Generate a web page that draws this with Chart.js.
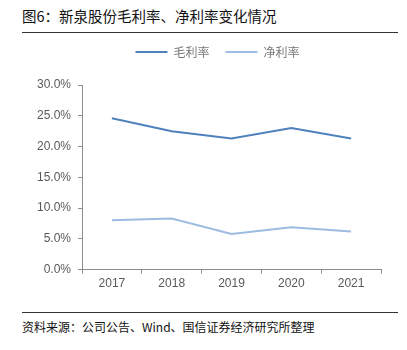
<!DOCTYPE html>
<html>
<head>
<meta charset="utf-8">
<script src="https://cdn.jsdelivr.net/npm/chart.js@4"></script>
<style>
  body { margin: 0; background: #fff; width: 407px; height: 350px; position: relative; overflow: hidden;
         font-family: "Noto Sans CJK SC", "Noto Sans", sans-serif; }
  #title { position: absolute; left: 22px; top: 5px; font-size: 14.5px; color: #111; }
  #rule1 { position: absolute; left: 22px; top: 32px; width: 376px; height: 1px; background: #333; }
  #rule2 { position: absolute; left: 22px; top: 312px; width: 376px; height: 1px; background: #333; }
  #source { position: absolute; left: 22px; top: 318px; font-size: 12px; color: #111; }
  #wrap { position: absolute; left: 0; top: 26px; width: 407px; height: 268px; }
</style>
</head>
<body>
<div id="title">图6：新泉股份毛利率、净利率变化情况</div>
<div id="rule1"></div>
<div id="wrap"><canvas id="chart"></canvas></div>
<div id="rule2"></div>
<div id="source">资料来源：公司公告、Wind、国信证券经济研究所整理</div>

<script>
// ===============================
// DATA
// ===============================

const years = ['2017', '2018', '2019', '2020', '2021'];

const grossMargin = [24.6, 22.5, 21.3, 23.0, 21.3];

const netMargin = [8.0, 8.3, 5.8, 6.9, 6.2];

const seriesNames = ['毛利率', '净利率'];


// ===============================
// CHART SETUP
// ===============================

const ctx = document.getElementById('chart').getContext('2d');

const axisColor = '#8c8c8c';

// extra room under the legend, and nudge it right / down a bit
const legendTweak = {
    id: 'legendTweak',
    beforeInit(chart) {
        const fit = chart.legend.fit;
        chart.legend.fit = function () {
            fit.bind(chart.legend)();
            this.height += 21;
        };
    },
    afterLayout(chart) {
        chart.legend.left += 12;
        chart.legend.right += 12;
        chart.legend.top += 4;
    }
};

let chart = new Chart(ctx, {

    type: 'line',

    data: {
        labels: years,

        datasets: [{
            label: seriesNames[0],
            data: grossMargin,
            borderColor: '#4f81bd',
            borderWidth: 2,
            pointRadius: 0,
            tension: 0
        }, {
            label: seriesNames[1],
            data: netMargin,
            borderColor: '#9dbce2',
            borderWidth: 2,
            pointRadius: 0,
            tension: 0
        }]
    },

    plugins: [legendTweak],

    options: {
        responsive: true,
        maintainAspectRatio: false,
        animation: false,
        layout: { padding: { left: 30, right: 26, top: 0, bottom: 0 } },

        plugins: {
            tooltip: { enabled: false },
            legend: {
                position: 'top',
                labels: {
                    usePointStyle: true,
                    pointStyle: 'line',
                    pointStyleWidth: 32,
                    boxHeight: 10,
                    color: '#777',
                    padding: 16,
                    font: { size: 12, family: '"Noto Sans CJK SC", sans-serif' }
                }
            }
        },

        scales: {
            x: {
                offset: true,
                grid: {
                    offset: true,
                    drawOnChartArea: false,
                    drawTicks: true,
                    tickLength: 4,
                    color: axisColor
                },
                border: { color: axisColor, width: 1 },
                ticks: {
                    color: '#595959',
                    padding: 3,
                    font: { size: 12, family: '"Liberation Sans", Arial, sans-serif' }
                }
            },
            y: {
                min: 0,
                max: 30,
                grid: {
                    drawOnChartArea: false,
                    drawTicks: true,
                    tickLength: 4,
                    color: axisColor
                },
                border: { color: axisColor, width: 1 },
                ticks: {
                    stepSize: 5,
                    color: '#595959',
                    padding: 7,
                    font: { size: 12, family: '"Liberation Sans", Arial, sans-serif' },
                    callback: v => v.toFixed(1) + '%'
                }
            }
        }
    }
});
</script>
</body>
</html>
